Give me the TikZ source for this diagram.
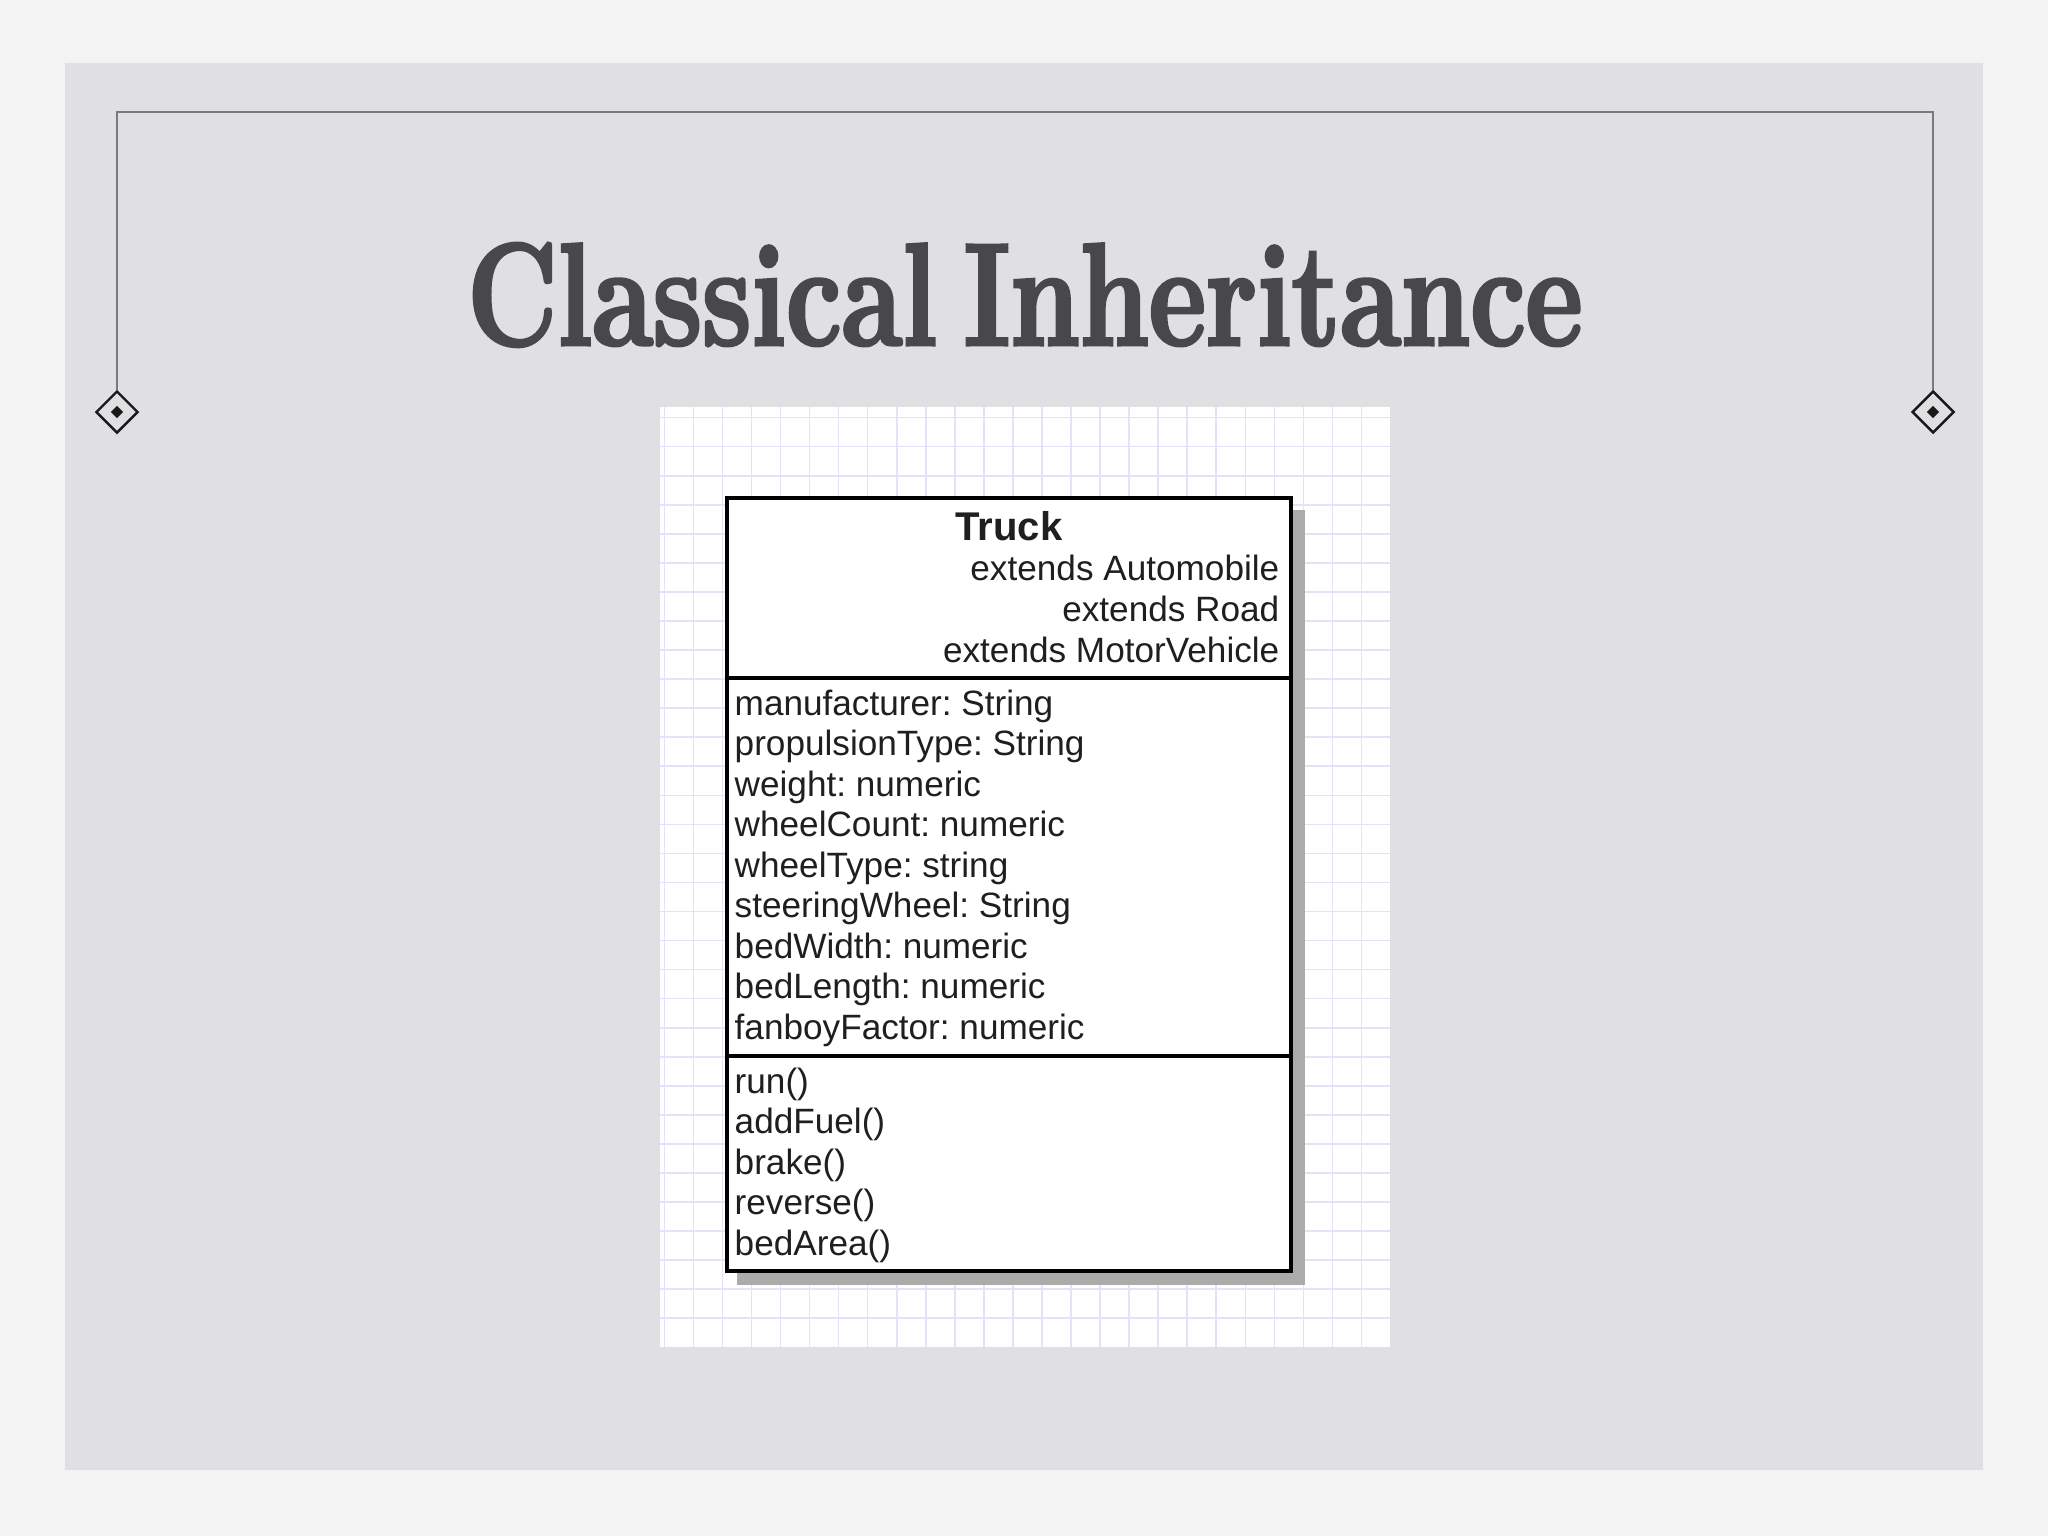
\documentclass[tikz,border=0pt]{standalone}
\usepackage{fontspec}
\usepackage{tikz}
\usetikzlibrary{shapes.geometric}
\newfontfamily\umlfont{Liberation Sans}
\newfontfamily\titlefont[FakeBold=2.2,FakeStretch=0.76]{Latin Modern Roman}
\definecolor{paper}{HTML}{F3F3F4}
\definecolor{panel}{HTML}{E0E0E3}
\definecolor{framegray}{HTML}{7A7A7A}
\definecolor{titlegray}{HTML}{48484A}
\definecolor{gridblue}{HTML}{E2E2F8}
\definecolor{shadowgray}{HTML}{ABABAB}

\begin{document}
\begin{tikzpicture}[x=0.01cm, y=-0.01cm,
                cornermark/.style={draw=black!90, diamond, line width=0.7pt, minimum size=0.42cm, inner sep=0pt, fill=panel},
                markdot/.style={diamond, fill=black!90, minimum size=0.13cm, inner sep=0pt},
                gridline/.style={draw=gridblue, line width=0.45pt},
                umlline/.style={draw=black, line width=1.3pt},
                attr/.style={anchor=base west, inner sep=0pt, text=black!88, font=\umlfont\frenchspacing\fontsize{10}{12}\selectfont},
                parent/.style={anchor=base east, inner sep=0pt, text=black!88, font=\umlfont\frenchspacing\fontsize{10}{12}\selectfont}]
                \fill[paper] (0,0) rectangle (2048,1536);
                \fill[panel] (65,63) rectangle (1983,1470);
                \node[cornermark](lmark) at (117,412){};
                \node[cornermark](rmark) at (1933,412){};
                \node[markdot](ldot) at (lmark.center){};
                \node[markdot](rdot) at (rmark.center){};
                \draw[framegray, line width=0.6pt] (lmark.north) -- (117,112) -- (1933,112) -- (rmark.north);
                \node[text=titlegray, anchor=base, inner sep=0pt, font=\titlefont\bfseries\fontsize{41.5}{48}\selectfont](title) at (1025,345){Classical\hspace{-0.1em} Inheritance};
                \fill[white] (660,407) rectangle (1390,1347);
                \foreach \k in {0,...,24}
                    \draw[gridline] ({664.3+29.05*\k},407) -- ({664.3+29.05*\k},1347);
                \foreach \k in {0,...,31}
                    \draw[gridline] (660,{417.65+29.05*\k}) -- (1390,{417.65+29.05*\k});
                \fill[shadowgray] (737,510) rectangle (1305,1285);
                \fill[white] (727,498) rectangle (1291,1271);
                \draw[umlline] (727,498) rectangle (1291,1271);
                \draw[umlline] (727,678) -- (1291,678);
                \draw[umlline] (727,1056) -- (1291,1056);
                \node[anchor=base, inner sep=0pt, text=black!88, font=\umlfont\bfseries\fontsize{11.4}{13}\selectfont](truck) at (1009,540){Truck};
                \node[parent](ext1) at (1280,580){extends Automobile};
                \node[parent](ext2) at (1280,621){extends Road};
                \node[parent](ext3) at (1280,662){extends MotorVehicle};
                \foreach \t [count=\i] in {manufacturer: String, propulsionType: String, weight: numeric, wheelCount: numeric, wheelType: string, steeringWheel: String, bedWidth: numeric, bedLength: numeric, fanboyFactor: numeric}
                    \node[attr](attr\i) at (734,{715+40.5*(\i-1)}){\t};
                \foreach \t [count=\i] in {run(), addFuel(), brake(), reverse(), bedArea()}
                    \node[attr](meth\i) at (734,{1093+40.5*(\i-1)}){\t};
                \end{tikzpicture}
\end{document}
